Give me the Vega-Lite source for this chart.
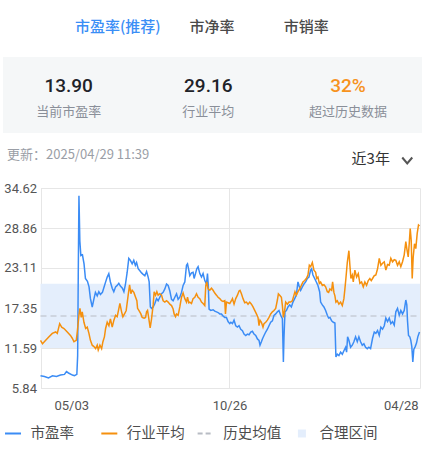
{
  "$schema": "https://vega.github.io/schema/vega-lite/v6.json",
  "padding": 0,
  "background": "#ffffff",
  "bounds": "flush",
  "spacing": 0,
  "config": {
    "font": "Noto Sans CJK SC",
    "view": {"stroke": null}
  },
  "resolve": {"scale": {"x": "independent", "y": "independent"}},
  "datasets": {
    "tabs": [{"tab": "市盈率(推荐)"}, {"tab": "市净率"}, {"tab": "市销率"}],
    "stats": [
      {"label": "当前市盈率", "value": "13.90"},
      {"label": "行业平均", "value": "29.16"},
      {"label": "超过历史数据", "value": "32%"}
    ],
    "meta": [
      {"kind": "time", "text": "更新：2025/04/29 11:39"},
      {"kind": "range", "text": "近3年"}
    ],
    "band": [{"lo": 11.6, "hi": 20.85}],
    "mean": [{"v": 16.2}],
    "pe": [
      {"t":0,"v":7.6},{"t":2,"v":7.5},{"t":4,"v":7.3},{"t":6,"v":7.6},{"t":8,"v":7.5},{"t":10,"v":7.7},{"t":12,"v":7.8},{"t":13,"v":8.2},{"t":14,"v":8.0},{"t":16,"v":7.7},{"t":17,"v":7.6},{"t":18.2,"v":7.8},{"t":18.6,"v":10.5},{"t":18.9,"v":22},{"t":19.25,"v":33.5},{"t":19.7,"v":27.0},{"t":20.2,"v":24.9},{"t":21,"v":25.0},{"t":21.8,"v":23.7},{"t":22.5,"v":21.6},{"t":23.5,"v":21.2},{"t":24.3,"v":20.4},{"t":25,"v":18.7},{"t":25.9,"v":17.5},{"t":26.7,"v":18.6},{"t":27.5,"v":19.6},{"t":28.4,"v":19.1},{"t":29.2,"v":19.7},{"t":30,"v":19.3},{"t":31,"v":19.6},{"t":31.75,"v":20.3},{"t":32.5,"v":21.0},{"t":33.4,"v":21.8},{"t":34.2,"v":22.3},{"t":35,"v":21.1},{"t":35.9,"v":20.2},{"t":36.7,"v":19.7},{"t":37.6,"v":20.4},{"t":38.4,"v":20.6},{"t":39.2,"v":20.9},{"t":40,"v":20.5},{"t":41,"v":20.2},{"t":41.75,"v":19.7},{"t":42.5,"v":20.7},{"t":43.4,"v":22.5},{"t":44.2,"v":24.5},{"t":45,"v":24.2},{"t":45.9,"v":23.7},{"t":46.7,"v":24.2},{"t":47.5,"v":23.5},{"t":48.1,"v":23.9},{"t":48.9,"v":23.0},{"t":49.75,"v":22.7},{"t":50.6,"v":22.4},{"t":51.4,"v":22.2},{"t":52.25,"v":22.0},{"t":53.1,"v":22.6},{"t":53.9,"v":21.8},{"t":54.4,"v":21.1},{"t":55,"v":17.5},{"t":55.6,"v":17.3},{"t":56.4,"v":17.5},{"t":57.25,"v":18.0},{"t":58.1,"v":18.7},{"t":58.9,"v":18.4},{"t":59.75,"v":18.9},{"t":60.6,"v":19.4},{"t":61.4,"v":19.6},{"t":62.25,"v":20.1},{"t":63.1,"v":20.8},{"t":63.9,"v":20.6},{"t":64.75,"v":19.8},{"t":65.6,"v":18.6},{"t":66.4,"v":18.4},{"t":67.25,"v":18.9},{"t":68.1,"v":19.4},{"t":68.9,"v":18.6},{"t":69.75,"v":18.9},{"t":70.6,"v":19.6},{"t":71.4,"v":20.6},{"t":72.25,"v":21.1},{"t":73.1,"v":23.5},{"t":73.6,"v":23.7},{"t":74.25,"v":22.8},{"t":74.75,"v":22.0},{"t":75.6,"v":22.4},{"t":76.4,"v":22.5},{"t":76.9,"v":21.6},{"t":77.6,"v":22.3},{"t":78.25,"v":23.0},{"t":78.9,"v":23.3},{"t":79.75,"v":22.3},{"t":80.6,"v":21.8},{"t":81.4,"v":22.3},{"t":82.25,"v":21.3},{"t":83.1,"v":20.8},{"t":83.6,"v":22.3},{"t":84,"v":20.6},{"t":84.4,"v":17.2},{"t":85.25,"v":17.0},{"t":86.4,"v":17.1},{"t":87.25,"v":16.9},{"t":88.1,"v":16.8},{"t":88.9,"v":16.7},{"t":89.75,"v":16.5},{"t":90.6,"v":16.5},{"t":91.4,"v":16.2},{"t":92.25,"v":16.0},{"t":93.1,"v":16.0},{"t":93.9,"v":15.4},{"t":94.75,"v":15.1},{"t":95.3,"v":15.3},{"t":96.1,"v":15.1},{"t":96.9,"v":15.6},{"t":97.75,"v":14.8},{"t":98.6,"v":14.6},{"t":99.4,"v":14.8},{"t":100.25,"v":14.3},{"t":101.1,"v":14.1},{"t":101.9,"v":13.6},{"t":102.75,"v":13.4},{"t":103.6,"v":13.6},{"t":104.4,"v":13.5},{"t":105.25,"v":13.9},{"t":106.1,"v":14.0},{"t":106.9,"v":13.6},{"t":107.75,"v":13.4},{"t":108.6,"v":12.9},{"t":109.4,"v":12.7},{"t":109.9,"v":12.0},{"t":110.6,"v":12.5},{"t":111.1,"v":12.9},{"t":111.9,"v":13.4},{"t":112.75,"v":13.9},{"t":113.6,"v":14.3},{"t":114.4,"v":14.8},{"t":115.25,"v":15.3},{"t":116.1,"v":15.5},{"t":116.9,"v":16.3},{"t":117.75,"v":16.5},{"t":118.6,"v":16.8},{"t":119.4,"v":17.0},{"t":120.25,"v":16.3},{"t":121.1,"v":15.8},{"t":121.6,"v":9.6},{"t":121.9,"v":13.1},{"t":122.4,"v":16.8},{"t":123.1,"v":17.0},{"t":123.9,"v":17.5},{"t":124.75,"v":17.8},{"t":125.6,"v":17.5},{"t":126.4,"v":18.2},{"t":127.25,"v":18.7},{"t":128.1,"v":19.2},{"t":128.9,"v":21.1},{"t":129.4,"v":20.6},{"t":130.25,"v":19.9},{"t":131.1,"v":20.4},{"t":131.9,"v":20.8},{"t":132.75,"v":21.1},{"t":133.6,"v":21.6},{"t":134.4,"v":21.8},{"t":135.25,"v":22.8},{"t":135.75,"v":23.0},{"t":136.4,"v":22.1},{"t":137.25,"v":21.6},{"t":138.1,"v":21.1},{"t":138.9,"v":20.6},{"t":139.75,"v":19.7},{"t":140.25,"v":18.2},{"t":141.1,"v":17.8},{"t":141.9,"v":17.5},{"t":142.75,"v":17.0},{"t":143.6,"v":16.3},{"t":144.25,"v":15.9},{"t":144.9,"v":16.0},{"t":145.75,"v":15.5},{"t":146.6,"v":15.3},{"t":147.4,"v":15.2},{"t":147.9,"v":10.3},{"t":148.6,"v":10.7},{"t":149.4,"v":10.5},{"t":150.25,"v":11.0},{"t":151.1,"v":10.7},{"t":151.9,"v":11.2},{"t":152.75,"v":11.7},{"t":153.25,"v":11.0},{"t":153.75,"v":13.2},{"t":154.4,"v":12.7},{"t":155.25,"v":11.7},{"t":156.1,"v":12.0},{"t":156.9,"v":12.5},{"t":157.75,"v":13.2},{"t":158.6,"v":12.5},{"t":159.4,"v":13.2},{"t":160.25,"v":12.5},{"t":161.1,"v":12.0},{"t":161.9,"v":12.2},{"t":162.75,"v":11.7},{"t":163.6,"v":11.5},{"t":164.4,"v":11.7},{"t":165.25,"v":11.5},{"t":166.25,"v":13.0},{"t":167.1,"v":13.9},{"t":167.9,"v":13.7},{"t":168.75,"v":14.1},{"t":169.6,"v":13.4},{"t":170.4,"v":14.6},{"t":171.25,"v":14.3},{"t":172.1,"v":14.8},{"t":172.9,"v":15.9},{"t":173.75,"v":15.4},{"t":174.6,"v":15.9},{"t":175.4,"v":15.1},{"t":176.25,"v":15.4},{"t":177.1,"v":14.9},{"t":177.9,"v":16.8},{"t":178.75,"v":17.3},{"t":179.6,"v":16.3},{"t":180.4,"v":17.0},{"t":181.25,"v":16.5},{"t":182.1,"v":17.0},{"t":182.9,"v":18.5},{"t":183.4,"v":17.8},{"t":183.75,"v":15.5},{"t":184.25,"v":13.4},{"t":184.9,"v":13.2},{"t":185.4,"v":12.7},{"t":185.9,"v":11.8},{"t":186.4,"v":9.6},{"t":186.9,"v":11.4},{"t":187.6,"v":11.8},{"t":188.25,"v":12.3},{"t":188.9,"v":13.2},{"t":189.75,"v":13.9}
    ],
    "ind": [
      {"t":0,"v":12.7},{"t":1,"v":12.2},{"t":2.6,"v":12.7},{"t":4.25,"v":13.2},{"t":5.9,"v":13.7},{"t":7.6,"v":13.9},{"t":8.4,"v":13.7},{"t":9.6,"v":15.1},{"t":10.6,"v":14.6},{"t":11.75,"v":14.4},{"t":13.4,"v":13.9},{"t":15,"v":13.4},{"t":15.9,"v":13.0},{"t":16.75,"v":12.5},{"t":17.9,"v":12.7},{"t":18.4,"v":13.9},{"t":19.25,"v":16.3},{"t":19.75,"v":17.3},{"t":20.4,"v":16.0},{"t":20.9,"v":16.8},{"t":21.75,"v":15.3},{"t":22.6,"v":14.4},{"t":23.4,"v":14.6},{"t":24.25,"v":13.7},{"t":25,"v":12.7},{"t":25.9,"v":12.0},{"t":26.75,"v":11.8},{"t":27.6,"v":11.5},{"t":28.4,"v":12.0},{"t":28.9,"v":11.3},{"t":29.75,"v":12.0},{"t":30.6,"v":11.5},{"t":31.25,"v":12.5},{"t":32,"v":13.2},{"t":32.6,"v":14.4},{"t":33.4,"v":15.3},{"t":34.25,"v":14.8},{"t":35,"v":15.8},{"t":35.9,"v":14.6},{"t":36.75,"v":15.6},{"t":37.6,"v":16.3},{"t":38.4,"v":16.1},{"t":39.25,"v":17.3},{"t":39.75,"v":18.0},{"t":40.6,"v":16.8},{"t":41.25,"v":16.1},{"t":42.25,"v":16.6},{"t":42.9,"v":17.0},{"t":43.9,"v":19.2},{"t":44.6,"v":20.7},{"t":45.25,"v":19.4},{"t":45.9,"v":19.9},{"t":46.75,"v":19.6},{"t":47.6,"v":18.9},{"t":48.25,"v":18.4},{"t":48.6,"v":17.3},{"t":49.25,"v":17.0},{"t":50.25,"v":16.5},{"t":50.9,"v":16.0},{"t":51.9,"v":15.9},{"t":52.6,"v":16.0},{"t":53.1,"v":16.8},{"t":53.6,"v":17.0},{"t":54.25,"v":15.8},{"t":54.9,"v":14.5},{"t":55.6,"v":15.8},{"t":56.4,"v":17.8},{"t":56.9,"v":19.7},{"t":57.6,"v":19.2},{"t":58.25,"v":19.7},{"t":58.9,"v":19.2},{"t":59.75,"v":19.4},{"t":60.6,"v":19.2},{"t":61.4,"v":18.4},{"t":62.25,"v":18.2},{"t":63.1,"v":18.4},{"t":63.9,"v":18.2},{"t":64.75,"v":17.9},{"t":65.6,"v":17.7},{"t":66.4,"v":17.2},{"t":66.9,"v":16.5},{"t":67.6,"v":16.1},{"t":68.1,"v":16.5},{"t":68.9,"v":16.3},{"t":69.75,"v":17.5},{"t":70.6,"v":18.9},{"t":71.4,"v":19.5},{"t":72.25,"v":18.7},{"t":73.1,"v":18.2},{"t":73.6,"v":18.9},{"t":74.25,"v":18.1},{"t":74.75,"v":18.2},{"t":75.6,"v":18.0},{"t":76.4,"v":18.7},{"t":77.25,"v":18.9},{"t":78.1,"v":19.4},{"t":78.9,"v":18.9},{"t":79.75,"v":18.7},{"t":80.6,"v":18.2},{"t":81.4,"v":18.0},{"t":82.25,"v":17.7},{"t":82.75,"v":20.6},{"t":83.25,"v":21.1},{"t":83.9,"v":20.1},{"t":84.75,"v":19.9},{"t":85.6,"v":20.2},{"t":86.4,"v":19.9},{"t":87.25,"v":19.5},{"t":88.1,"v":19.2},{"t":88.9,"v":18.9},{"t":89.75,"v":18.7},{"t":90.6,"v":18.4},{"t":91.4,"v":18.3},{"t":92.25,"v":18.4},{"t":92.6,"v":16.5},{"t":93.1,"v":18.2},{"t":93.9,"v":18.1},{"t":94.75,"v":18.0},{"t":95.6,"v":18.4},{"t":96.1,"v":18.7},{"t":96.9,"v":17.9},{"t":97.75,"v":18.7},{"t":98.6,"v":19.2},{"t":99.4,"v":19.8},{"t":99.9,"v":19.9},{"t":100.6,"v":19.4},{"t":101.4,"v":18.7},{"t":102.25,"v":18.1},{"t":103.1,"v":18.2},{"t":103.9,"v":17.9},{"t":104.75,"v":18.2},{"t":105.6,"v":17.9},{"t":106.4,"v":17.5},{"t":107.25,"v":17.0},{"t":108.1,"v":16.5},{"t":108.9,"v":16.0},{"t":109.4,"v":14.8},{"t":109.9,"v":15.6},{"t":110.6,"v":15.3},{"t":111.4,"v":14.6},{"t":111.9,"v":15.1},{"t":112.75,"v":15.3},{"t":113.6,"v":15.6},{"t":114.4,"v":16.0},{"t":115.25,"v":16.5},{"t":116.1,"v":16.8},{"t":116.9,"v":17.0},{"t":117.75,"v":17.3},{"t":118.6,"v":18.5},{"t":119.1,"v":19.4},{"t":119.75,"v":19.2},{"t":120.6,"v":18.9},{"t":121.1,"v":17.7},{"t":121.6,"v":16.0},{"t":122.25,"v":17.0},{"t":122.75,"v":18.2},{"t":123.6,"v":17.9},{"t":124.4,"v":18.2},{"t":125.25,"v":18.2},{"t":126.1,"v":18.4},{"t":126.9,"v":19.2},{"t":127.4,"v":19.7},{"t":128.1,"v":19.2},{"t":128.9,"v":19.7},{"t":129.75,"v":20.1},{"t":130.6,"v":20.6},{"t":131.4,"v":21.1},{"t":132.25,"v":21.3},{"t":133.1,"v":21.6},{"t":133.9,"v":22.1},{"t":134.6,"v":23.5},{"t":135.25,"v":23.3},{"t":136.1,"v":23.9},{"t":136.9,"v":22.8},{"t":137.75,"v":22.5},{"t":138.25,"v":21.6},{"t":138.9,"v":21.8},{"t":139.6,"v":20.9},{"t":140.25,"v":21.1},{"t":141.1,"v":20.6},{"t":141.9,"v":20.7},{"t":142.75,"v":20.4},{"t":143.6,"v":19.7},{"t":144.25,"v":19.6},{"t":144.9,"v":20.1},{"t":145.75,"v":19.9},{"t":146.25,"v":21.1},{"t":146.9,"v":19.6},{"t":147.4,"v":19.1},{"t":147.9,"v":18.2},{"t":148.6,"v":18.4},{"t":149.4,"v":17.9},{"t":150.25,"v":18.2},{"t":151.1,"v":17.7},{"t":151.9,"v":18.7},{"t":152.4,"v":20.1},{"t":152.9,"v":21.6},{"t":153.6,"v":23.9},{"t":154.4,"v":25.6},{"t":154.9,"v":23.5},{"t":155.4,"v":21.6},{"t":156.1,"v":22.1},{"t":156.6,"v":21.1},{"t":157.4,"v":22.8},{"t":158.25,"v":21.8},{"t":159.1,"v":22.3},{"t":159.9,"v":20.9},{"t":160.75,"v":21.1},{"t":161.6,"v":20.4},{"t":162.4,"v":21.1},{"t":163.25,"v":20.6},{"t":164.1,"v":21.3},{"t":164.9,"v":21.6},{"t":165.6,"v":21.3},{"t":166.25,"v":21.6},{"t":167.1,"v":22.0},{"t":167.9,"v":22.1},{"t":168.75,"v":23.0},{"t":169.6,"v":24.5},{"t":170.4,"v":23.5},{"t":171.25,"v":23.8},{"t":172.1,"v":24.0},{"t":172.9,"v":22.8},{"t":173.75,"v":23.6},{"t":174.6,"v":23.5},{"t":175.4,"v":24.5},{"t":176.25,"v":24.0},{"t":177.1,"v":24.3},{"t":177.9,"v":24.2},{"t":178.75,"v":23.5},{"t":179.6,"v":24.0},{"t":180.4,"v":23.3},{"t":181.25,"v":24.0},{"t":182.1,"v":25.0},{"t":182.9,"v":26.9},{"t":183.4,"v":25.9},{"t":184.1,"v":24.7},{"t":184.6,"v":26.6},{"t":185.1,"v":28.8},{"t":185.6,"v":27.1},{"t":186.1,"v":21.6},{"t":186.6,"v":24.7},{"t":187.25,"v":26.6},{"t":187.9,"v":25.9},{"t":188.6,"v":28.1},{"t":189.25,"v":29.3},{"t":189.75,"v":29.16}
    ],
    "legend": [{"s": "市盈率"}, {"s": "行业平均"}, {"s": "历史均值"}, {"s": "合理区间"}]
  },
  "vconcat": [
    {
      "width": 418,
      "height": 57,
      "data": {"name": "tabs"},
      "mark": {"type": "text", "fontSize": 15, "fontWeight": 500, "dy": -2},
      "encoding": {
        "x": {"field": "tab", "type": "nominal", "sort": null, "axis": null, "scale": {"type": "band", "paddingInner": 0, "paddingOuter": 0.72}},
        "text": {"field": "tab"},
        "color": {"condition": {"test": "datum.tab === '市盈率(推荐)'", "value": "#3a8ef6"}, "value": "#4a4a4a"}
      }
    },
    {
      "width": 419,
      "height": 76,
      "view": {"fill": "#f5f7f8", "stroke": null},
      "data": {"name": "stats"},
      "encoding": {
        "x": {"field": "label", "type": "nominal", "sort": null, "axis": null, "bandPosition": 0.47, "scale": {"type": "band", "paddingInner": 0, "paddingOuter": 0}}
      },
      "layer": [
        {
          "mark": {"type": "text", "fontSize": 19, "fontWeight": 500, "font": "Roboto", "dy": -9},
          "encoding": {
            "text": {"field": "value"},
            "color": {"condition": {"test": "datum.label === '超过历史数据'", "value": "#f7931e"}, "value": "#1f2329"}
          }
        },
        {
          "mark": {"type": "text", "fontSize": 13, "dy": 17, "color": "#8a8f99"},
          "encoding": {"text": {"field": "label"}}
        }
      ]
    },
    {
      "width": 428,
      "height": 55,
      "data": {"name": "meta"},
      "layer": [
        {
          "transform": [{"filter": "datum.kind === 'time'"}],
          "mark": {"type": "text", "align": "left", "dx": 4, "dy": -5.5, "fontSize": 13, "color": "#9a9ea6"},
          "encoding": {
            "x": {"field": "kind", "type": "nominal", "axis": null, "bandPosition": 0, "scale": {"type": "band", "domain": ["time", "range"], "paddingInner": 0, "paddingOuter": 0}},
            "text": {"field": "text"}
          }
        },
        {
          "transform": [{"filter": "datum.kind === 'range'"}],
          "mark": {"type": "text", "align": "right", "dy": -1.5, "fontSize": 15, "color": "#333333"},
          "encoding": {
            "x": {"field": "kind", "type": "nominal", "bandPosition": 0.808},
            "text": {"field": "text"}
          }
        },
        {
          "transform": [{"filter": "datum.kind === 'range'"}],
          "mark": {"type": "point", "shape": "M-1,-0.6L0,0.6L1,-0.6", "size": 100, "filled": false, "color": "#555555", "strokeWidth": 2, "opacity": 1},
          "encoding": {
            "x": {"field": "kind", "type": "nominal", "bandPosition": 0.889}
          }
        }
      ]
    },
    {
      "width": 417,
      "height": 200,
      "layer": [
        {
          "data": {"name": "band"},
          "mark": {"type": "rect", "color": "#e4eefc"},
          "encoding": {
            "x": {
              "datum": 0,
              "type": "quantitative",
              "scale": {"domain": [0, 190], "range": [37.5, 417], "nice": false, "zero": false},
              "axis": {
                "title": null,
                "values": [0, 15.4, 94.6, 180.4, 190],
                "tickCount": 12,
                "labelExpr": "datum.value === 15.4 ? '05/03' : datum.value === 94.6 ? '10/26' : datum.value === 180.4 ? '04/28' : ''",
                "grid": true,
                "gridColor": "#e6e6e6",
                "gridOpacity": {"condition": {"test": "datum.value === 15.4 || datum.value === 180.4", "value": 0}, "value": 1},
                "domain": false,
                "ticks": false,
                "tickSize": 0,
                "labelPadding": 11,
                "labelFontSize": 13,
                "labelFont": "Roboto",
                "labelColor": "#555555",
                "labelOverlap": false,
                "labelFlush": false,
                "labelBound": false
              }
            },
            "x2": {"datum": 190},
            "y": {
              "field": "hi",
              "type": "quantitative",
              "scale": {"domain": [5.84, 34.62], "nice": false, "zero": false},
              "axis": {
                "title": null,
                "values": [5.84, 11.59, 17.35, 23.11, 28.86, 34.62],
                "tickCount": 8,
                "format": ".2f",
                "offset": -37.5,
                "grid": true,
                "gridColor": "#e6e6e6",
                "domain": false,
                "ticks": false,
                "tickSize": 0,
                "labelPadding": 4,
                "labelFontSize": 13,
                "labelFont": "Roboto",
                "labelColor": "#555555",
                "labelOverlap": false
              }
            },
            "y2": {"field": "lo"}
          }
        },
        {
          "data": {"name": "mean"},
          "mark": {"type": "rule", "color": "#b8bcc4", "strokeDash": [6, 4], "strokeWidth": 1.2},
          "encoding": {
            "x": {"datum": 0, "type": "quantitative"},
            "x2": {"datum": 190},
            "y": {"field": "v", "type": "quantitative"}
          }
        },
        {
          "data": {"name": "pe"},
          "mark": {"type": "line", "color": "#3b8cf5", "strokeWidth": 1.5},
          "encoding": {
            "x": {"field": "t", "type": "quantitative"},
            "y": {"field": "v", "type": "quantitative"}
          }
        },
        {
          "data": {"name": "ind"},
          "mark": {"type": "line", "color": "#f5900e", "strokeWidth": 1.5},
          "encoding": {
            "x": {"field": "t", "type": "quantitative"},
            "y": {"field": "v", "type": "quantitative"}
          }
        }
      ]
    },
    {
      "width": 385.2,
      "height": 62,
      "data": {"name": "legend"},
      "layer": [
        {
          "transform": [{"filter": "datum.s !== '合理区间'"}],
          "mark": {"type": "point", "shape": "stroke", "size": 256, "strokeWidth": 2.2, "opacity": 1, "filled": false, "yOffset": 14.5},
          "encoding": {
            "x": {"field": "s", "type": "nominal", "axis": null, "bandPosition": 0.104, "scale": {"type": "band", "domain": ["市盈率", "行业平均", "历史均值", "合理区间"], "paddingInner": 0, "paddingOuter": 0}},
            "stroke": {"field": "s", "type": "nominal", "legend": null, "scale": {"domain": ["市盈率", "行业平均", "历史均值"], "range": ["#3b8cf5", "#f5900e", "#b8bcc4"]}},
            "strokeDash": {"field": "s", "type": "nominal", "legend": null, "scale": {"domain": ["市盈率", "行业平均", "历史均值"], "range": [[1, 0], [1, 0], [5, 3]]}}
          }
        },
        {
          "transform": [{"filter": "datum.s === '合理区间'"}],
          "mark": {"type": "square", "size": 64, "color": "#e4eefc", "opacity": 1, "yOffset": 14.5},
          "encoding": {
            "x": {"field": "s", "type": "nominal", "bandPosition": 0.104}
          }
        },
        {
          "mark": {"type": "text", "align": "left", "dy": 14.5, "fontSize": 14.5, "color": "#4d4d4d"},
          "encoding": {
            "x": {"field": "s", "type": "nominal", "bandPosition": 0.286},
            "text": {"field": "s"}
          }
        }
      ]
    }
  ]
}
